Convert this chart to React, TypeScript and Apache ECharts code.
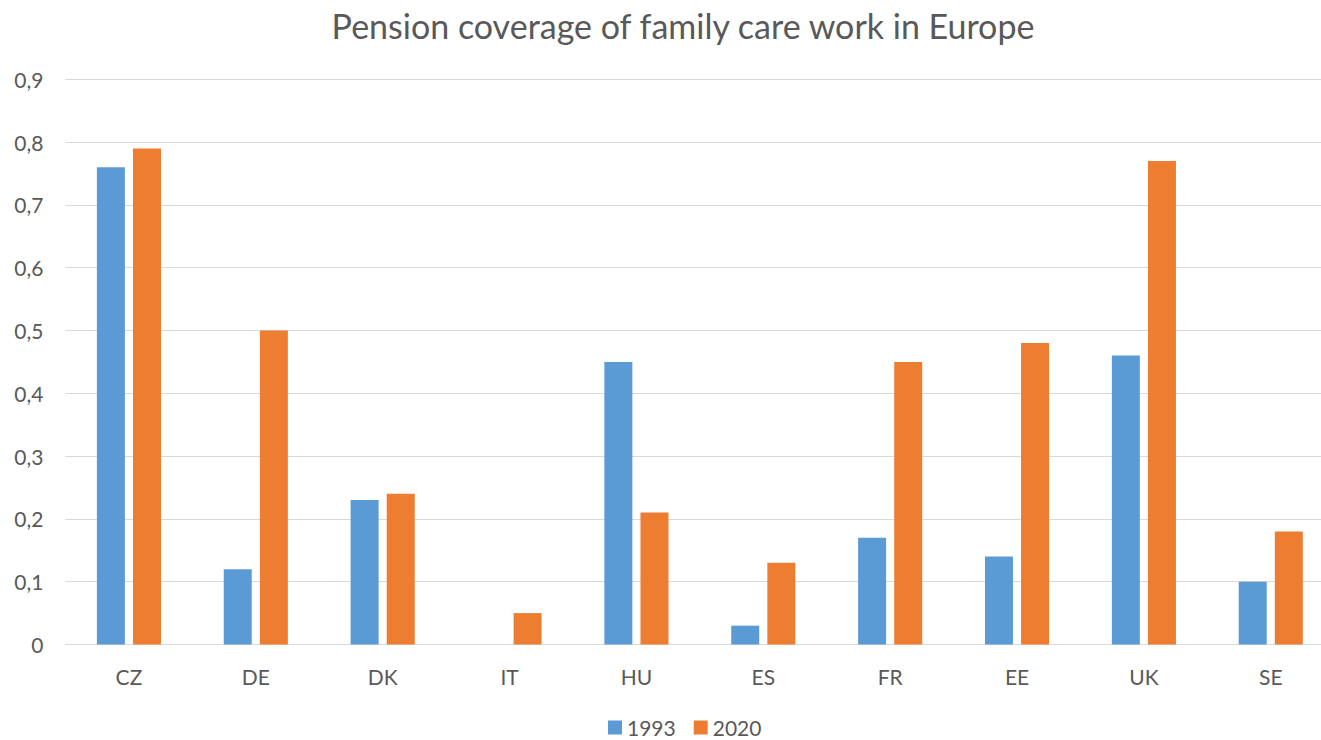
import React, { useEffect, useRef } from "react";
import * as echarts from "echarts";

const categories = ["CZ", "DE", "DK", "IT", "HU", "ES", "FR", "EE", "UK", "SE"];
const values1993 = [0.76, 0.12, 0.23, 0, 0.45, 0.03, 0.17, 0.14, 0.46, 0.1];
const values2020 = [0.79, 0.5, 0.24, 0.05, 0.21, 0.13, 0.45, 0.48, 0.77, 0.18];
const seriesNames = ["1993", "2020"];
const titleText = "Pension coverage of family care work in Europe";

const FONT = "Lato";
const TXT = "#595959";

export default function App() {
  const ref = useRef<HTMLDivElement>(null);
  useEffect(() => {
    document.body.style.margin = "0";
    const chart = echarts.init(ref.current!, null, { renderer: "svg" });
    chart.setOption({
      animation: false,
      backgroundColor: "#ffffff",
      title: {
        text: titleText,
        left: 678,
        textAlign: "center",
        top: 3,
        textStyle: { fontFamily: FONT, fontSize: 34, fontWeight: "normal", color: TXT },
      },
      legend: {
        top: 712,
        left: 603,
        itemWidth: 14,
        itemHeight: 14,
        itemGap: 18,
        icon: "rect",
        textStyle: { fontFamily: FONT, fontSize: 21, color: TXT },
        data: seriesNames,
      },
      grid: {
        left: 65.5,
        top: 79.3,
        width: 1268.7,
        height: 565.2,
        containLabel: false,
        outerBoundsMode: "none",
      },
      xAxis: {
        type: "category",
        data: categories,
        axisLine: { show: true, lineStyle: { color: "#d9d9d9", width: 1 } },
        axisTick: { show: false },
        axisLabel: { fontFamily: FONT, fontSize: 21, color: TXT, margin: 21 },
      },
      yAxis: {
        type: "value",
        min: 0,
        max: 0.9,
        interval: 0.1,
        axisLine: { show: false },
        axisTick: { show: false },
        splitLine: { lineStyle: { color: "#d9d9d9", width: 1 } },
        axisLabel: {
          fontFamily: FONT,
          fontSize: 21,
          color: TXT,
          margin: 22,
          formatter: (v: number) => (v === 0 ? "0" : v.toFixed(1).replace(".", ",")),
        },
      },
      series: [
        {
          name: seriesNames[0],
          type: "bar",
          data: values1993,
          barWidth: 28,
          barGap: "29%",
          itemStyle: { color: "#5B9BD5" },
        },
        {
          name: seriesNames[1],
          type: "bar",
          data: values2020,
          barWidth: 28,
          itemStyle: { color: "#ED7D31" },
        },
      ],
    });
    return () => chart.dispose();
  }, []);
  return <div ref={ref} style={{ width: 1321, height: 740, position: "absolute", left: 0, top: 0 }} />;
}
